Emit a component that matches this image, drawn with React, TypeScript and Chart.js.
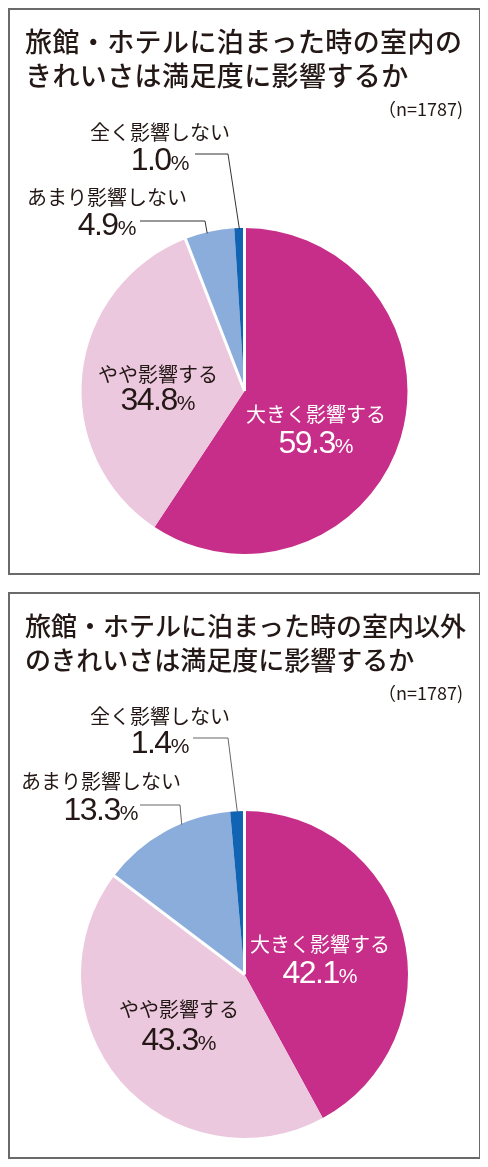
import { useEffect, useRef } from 'react';
import { Chart, registerables } from 'chart.js';

Chart.register(...registerables);

// 回答の選択肢（時計回り）
const categories = ['大きく影響する', 'やや影響する', 'あまり影響しない', '全く影響しない'];
const colors = ['#C72E8A', '#ECC8DF', '#8AADDB', '#1164B4'];

// 室内のきれいさ
const roomValues = [59.3, 34.8, 4.9, 1.0];
// 室内以外のきれいさ
const otherValues = [42.1, 43.3, 13.3, 1.4];

const sampleLabel = '（n=1787)';

const JP = '"Noto Sans CJK JP", "Noto Sans", sans-serif';
const NUM = '"Liberation Sans", Arial, sans-serif';

interface LabelSpec {
  index: number;
  x: number;
  nameY: number;
  valueY: number;
  color: string;
  leader?: { startX: number; elbowX: number; y: number; frac: number; color: string };
}

// ラベルとセパレーターを描くプラグイン
const pieLabelPlugin = {
  id: 'pieLabels',
  afterDatasetsDraw(chart: any, _args: any, opts: any) {
    const ctx: CanvasRenderingContext2D = chart.ctx;
    const meta = chart.getDatasetMeta(0);
    const values: number[] = chart.data.datasets[0].data;

    // 白い境界線
    (opts.separators || []).forEach((i: number) => {
      const a = meta.data[i].getProps(['x', 'y', 'startAngle', 'outerRadius'], true);
      ctx.save();
      ctx.strokeStyle = '#ffffff';
      ctx.lineWidth = 3;
      ctx.beginPath();
      ctx.moveTo(a.x, a.y);
      ctx.lineTo(a.x + Math.cos(a.startAngle) * (a.outerRadius + 1), a.y + Math.sin(a.startAngle) * (a.outerRadius + 1));
      ctx.stroke();
      ctx.restore();
    });

    (opts.labels || []).forEach((l: LabelSpec) => {
      ctx.save();
      ctx.fillStyle = l.color;
      ctx.textAlign = 'center';
      ctx.textBaseline = 'middle';
      ctx.font = `400 20px ${JP}`;
      ctx.fillText(chart.data.labels[l.index], l.x, l.nameY);

      // 数値 + ％
      const num = values[l.index].toFixed(1);
      ctx.textBaseline = 'alphabetic';
      ctx.textAlign = 'left';
      ctx.font = `400 32px ${NUM}`;
      (ctx as any).letterSpacing = '-1.5px';
      const wNum = ctx.measureText(num).width;
      ctx.font = `400 21px ${NUM}`;
      (ctx as any).letterSpacing = '0px';
      const wPct = ctx.measureText('%').width;
      const start = l.x - (wNum + wPct) / 2;
      ctx.font = `400 32px ${NUM}`;
      (ctx as any).letterSpacing = '-1.5px';
      ctx.fillText(num, start, l.valueY);
      ctx.font = `400 21px ${NUM}`;
      (ctx as any).letterSpacing = '0px';
      ctx.fillText('%', start + wNum, l.valueY);

      if (l.leader) {
        const a = meta.data[l.index].getProps(['x', 'y', 'startAngle', 'endAngle', 'outerRadius'], true);
        const ang = a.startAngle + (a.endAngle - a.startAngle) * l.leader.frac;
        const ax = a.x + Math.cos(ang) * (a.outerRadius - 1);
        const ay = a.y + Math.sin(ang) * (a.outerRadius - 1);
        ctx.strokeStyle = l.leader.color;
        ctx.lineWidth = 1;
        ctx.beginPath();
        ctx.moveTo(l.leader.startX, l.leader.y);
        ctx.lineTo(l.leader.elbowX, l.leader.y);
        ctx.lineTo(ax, ay);
        ctx.stroke();
      }
      ctx.restore();
    });
  },
};

interface PanelProps {
  title: string[];
  titleSize: number;
  titleSpacing: number;
  values: number[];
  padTop: number;
  padBottom: number;
  labels: LabelSpec[];
}

const W = 469;
const H = 563;

function PiePanel({ title, titleSize, titleSpacing, values, padTop, padBottom, labels }: PanelProps) {
  const canvasRef = useRef<HTMLCanvasElement>(null);
  const chartRef = useRef<Chart | null>(null);

  useEffect(() => {
    if (!canvasRef.current) return;
    if (chartRef.current) chartRef.current.destroy();

    chartRef.current = new Chart(canvasRef.current, {
      type: 'pie',
      data: {
        labels: categories,
        datasets: [{
          data: values,
          backgroundColor: colors,
          borderWidth: 0,
        }],
      },
      options: {
        responsive: false,
        animation: false,
        layout: { padding: { top: padTop, bottom: padBottom, left: 0, right: 0 } },
        plugins: {
          legend: { display: false },
          tooltip: { enabled: false },
          pieLabels: { separators: [0, 2], labels },
        } as any,
      },
      plugins: [pieLabelPlugin],
    });

    return () => {
      if (chartRef.current) {
        chartRef.current.destroy();
        chartRef.current = null;
      }
    };
  }, [values]);

  return (
    <div style={{
      position: 'relative',
      width: W,
      height: H,
      border: '2px solid #6a6a6a',
      background: '#fff',
    }}>
      <canvas ref={canvasRef} width={W} height={H} style={{ position: 'absolute', left: 0, top: 0 }} />
      <div style={{
        position: 'absolute',
        left: 15,
        top: 14,
        fontFamily: JP,
        fontWeight: 500,
        fontSize: titleSize,
        letterSpacing: titleSpacing,
        lineHeight: '34px',
        color: '#231815',
        whiteSpace: 'nowrap',
      }}>
        {title.map((t, i) => <div key={i}>{t}</div>)}
      </div>
      <div style={{
        position: 'absolute',
        right: 16,
        top: 85,
        fontFamily: JP,
        fontSize: 18,
        color: '#231815',
      }}>{sampleLabel}</div>
    </div>
  );
}

const roomLabels: LabelSpec[] = [
  { index: 3, x: 150, nameY: 122, valueY: 160, color: '#231815', leader: { startX: 185, elbowX: 218, y: 144, frac: 0.5, color: '#333' } },
  { index: 2, x: 97, nameY: 187, valueY: 225, color: '#231815', leader: { startX: 130, elbowX: 195, y: 211, frac: 0.45, color: '#333' } },
  { index: 1, x: 148, nameY: 364, valueY: 400, color: '#231815' },
  { index: 0, x: 306, nameY: 404, valueY: 443, color: '#ffffff' },
];

const otherLabels: LabelSpec[] = [
  { index: 3, x: 150, nameY: 122, valueY: 159, color: '#231815', leader: { startX: 183, elbowX: 218, y: 144, frac: 0.5, color: '#666' } },
  { index: 2, x: 91, nameY: 187, valueY: 226, color: '#231815', leader: { startX: 130, elbowX: 170, y: 211, frac: 0.63, color: '#666' } },
  { index: 0, x: 310, nameY: 350, valueY: 389, color: '#ffffff' },
  { index: 1, x: 169, nameY: 415, valueY: 456, color: '#231815' },
];

export default function App() {
  return (
    <div style={{ width: 473 }}>
      <PiePanel
        title={['旅館・ホテルに泊まった時の室内の', 'きれいさは満足度に影響するか']}
        titleSize={27}
        titleSpacing={0.4}
        values={roomValues}
        padTop={218}
        padBottom={19}
        labels={roomLabels}
      />
      <div style={{ height: 17 }} />
      <PiePanel
        title={['旅館・ホテルに泊まった時の室内以外', 'のきれいさは満足度に影響するか']}
        titleSize={26}
        titleSpacing={0}
        values={otherValues}
        padTop={217}
        padBottom={19}
        labels={otherLabels}
      />
    </div>
  );
}
